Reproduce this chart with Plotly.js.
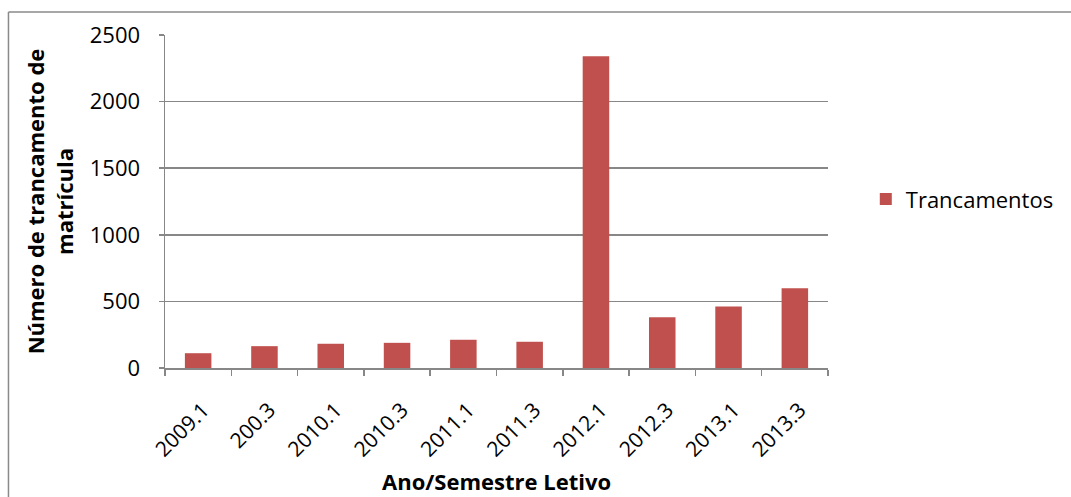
<!DOCTYPE html>
<html>
<head>
<meta charset="utf-8">
<script src="https://cdn.plot.ly/plotly-3.0.1.min.js"></script>
<style>
  html, body { margin: 0; padding: 0; background: #fff; }
  #chart { width: 1071px; height: 497px; }
</style>
</head>
<body>
<div id="chart"></div>
<script>
const categories = ["2009.1", "200.3", "2010.1", "2010.3", "2011.1", "2011.3", "2012.1", "2012.3", "2013.1", "2013.3"];
const trancamentos = [111, 164, 182, 189, 212, 197, 2340, 381, 462, 598];
const seriesName = "Trancamentos";
const yTicks = [0, 500, 1000, 1500, 2000, 2500];
const xTitle = "Ano/Semestre Letivo";
const yTitle = "Número de trancamento de<br>matrícula";

const fontFamily = "'Open Sans', sans-serif";
const gray = "#878787";

const trace = {
  type: "bar",
  x: categories,
  y: trancamentos,
  name: seriesName,
  marker: { color: "#C0504D" },
  showlegend: true
};

const layout = {
  width: 1071,
  height: 497,
  margin: { l: 165, r: 241, t: 35, b: 129 },
  paper_bgcolor: "#ffffff",
  plot_bgcolor: "#ffffff",
  bargap: 0.6,
  font: { family: fontFamily, color: "#000000", size: 22 },
  showlegend: true,
  legend: {
    x: 1.057, y: 0.507, xanchor: "left", yanchor: "middle",
    font: { family: fontFamily, size: 22, color: "#000" },
    itemwidth: 30
  },
  xaxis: {
    type: "category",
    showline: true, linecolor: gray, linewidth: 1.5,
    ticks: "outside", tickson: "boundaries", ticklen: 6, tickcolor: gray, tickwidth: 1.5,
    tickangle: -45,
    showgrid: false,
    tickfont: { family: fontFamily, size: 21 },
    ticklabelstandoff: 20,
    ticklabelshift: 5
  },
  yaxis: {
    range: [0, 2500],
    tickvals: yTicks,
    showline: true, linecolor: gray, linewidth: 1.5,
    ticks: "outside", ticklen: 5, tickcolor: gray, tickwidth: 1.5,
    showgrid: true, gridcolor: gray, gridwidth: 1.5,
    zeroline: false,
    tickfont: { family: fontFamily, size: 22 },
    ticklabelstandoff: 14,
    title: { text: "<b>" + yTitle + "</b>", font: { family: fontFamily, size: 22 }, standoff: 10 }
  },
  annotations: [
    {
      text: "<b>" + xTitle + "</b>",
      xref: "paper", yref: "paper",
      x: 0.5, y: (368 - 481) / 333,
      xanchor: "center", yanchor: "middle",
      showarrow: false,
      font: { family: fontFamily, size: 22, color: "#000" }
    }
  ],
  shapes: [
    { type: "line", xref: "paper", yref: "paper", x0: (8 - 165) / 665, x1: (1075 - 165) / 665, y0: (368 - 12) / 333, y1: (368 - 12) / 333, line: { color: "#8a8a8a", width: 1.5 } },
    { type: "line", xref: "paper", yref: "paper", x0: (8 - 165) / 665, x1: (8 - 165) / 665, y0: (368 - 12) / 333, y1: (368 - 500) / 333, line: { color: "#8a8a8a", width: 1.5 } }
  ]
};

Plotly.newPlot("chart", [trace], layout, { displayModeBar: false, staticPlot: true });
</script>
</body>
</html>
